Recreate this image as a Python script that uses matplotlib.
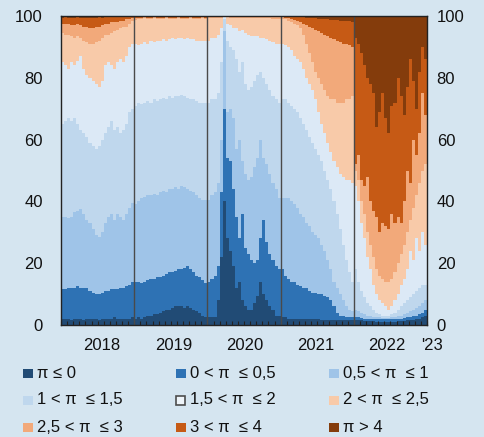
import numpy as np
import matplotlib
matplotlib.use("Agg")
import matplotlib.pyplot as plt
from matplotlib.patches import Rectangle
from matplotlib.ticker import MultipleLocator, NullLocator

plt.rcParams['font.family'] = ['Liberation Sans', 'DejaVu Sans']

# ---------------- data: cumulative share (%) of respondents with expected inflation pi <= threshold
# semi-monthly observations, Jan 2018 .. Dec 2022
le0 = [2,2,2,1.5,2,2,2,1.5,2,2,2,2,1.5,2,2,2,2,2.5,2,2,2,2,2,2.5,
       2,2.5,2,2.5,3,3,3.5,3.5,4,4.5,5,5,5.5,6,6,6,5.5,6,5.5,5,4.5,4,3,2.5,
       2.5,2.5,2.5,8,22,40,28,24,19,12,14,8,6,5,5,7,9.5,14,10,8,6,5,3,3,
       2.5,2.5,2,2,2,2,2,2,2,2,2,2,2,1.5,1.5,1.5,1.5,1.5,1.5,1.5,1.5,1.5,1.5,1.5,
       1.5,1.5,1.5,1.2,1.2,1.2,1.2,1,1,1,1,1,1,1,1.2,1.2,1.2,1.5,1.5,1.5,2,2,2.5,3]
le05 = [11.5,11.5,12,12,12,12.5,12,12,12,11,10.5,10,10,10.5,11,11,11.5,11.5,11.5,12,12,12.5,13,14,
        14,14,13.5,14,14.5,15,15,15.5,15.5,16,16.5,17,17,17.5,18,18,18.5,19,18,17,16,15.5,14.5,13.5,
        14,15,16,19,43,70,54,53,44,35,28,36,25,23,21,20,21,28,34,27,23,21,19,18,
        18,16,15,14,14,13,12.5,12,12,11,10.5,10.5,10,10,9.5,9,8,6,4,3,3,2.5,2.5,2.5,
        2.5,2.5,2.3,2,2,2,2,1.8,1.8,1.8,1.8,1.8,1.8,2,2,2,2.2,2.5,2.5,3,3,3.5,4,5]
le1 = [35,35,34.5,35,36.5,37,37.5,36,34,33,31,29,28.5,30,33,35,36,34,36,35,34,36,38,39.5,
       39,40,41,41.5,42,42,42.5,42,43,43.5,43,44,44,44.5,44,45,44.5,44,43.5,43,42,41,40.5,40.5,
       40.5,42,43,46,60,95,69,70,67,57,60,53,49,47,48,51,54,60,54,52,49,46,44,41,
       41,41,41,40,39,38,36,35,33,32,30,29,28,26,24,21,18,14,12,10,8,6,5,4.5,
       5,4.5,4,3.5,3,3,2.5,2.5,2.5,2.2,2.2,2.2,2.5,2.5,3,3,3.5,4,4.5,5,5.5,6,7,8]
le15 = [65,66,67,66,67,65,63,62,61,59,58,57,58,60,62,64,66,63,64,62,63,65,69,70,
        71,72,71.5,72,72.5,72,73,72.5,73,73.5,73,74,73.5,74,74,74.5,74,73.5,73,73,72.5,72,72,72,
        72,73,73,75,85,99,92,90,89,86,82,85,78,76,77,79,81,82,80,78,76,74,73,72,
        73,73,72,71,70,69,67,65,63,61,59,57,55,53,50,47,44,40,36,31,26,21,17,14,
        18,14,11,9,7,6,5,4,3.5,3,3,3,3.5,4,5,6,7,8,9,10,11,12,13,13]
le2 = [85,84,83,85,84,85.5,87,83,81,80,79,78,77,79,84,85,84,83,85,86,85,87,90,91,
       91,90.5,91,91.5,91,92,91.5,92,92,92.5,92,92.5,93,92.5,93,93,92.5,93,92.5,92.5,92,92,92,92,
       92,93,93,94,96,99.8,97.5,97,96,96,95,95.5,94.5,94,93.5,93.5,93.5,93,93,92.5,92,91.5,91,91,
       91,90.5,90,89,87,86,85,83,80,78,76,73,69,65,62,59,56,53,51,49,48,47,47,46,
       45,40,33,28,22,18,13,10,8,7,6,5,6,8,10,13,15,18,24,21,28,24,30,26]
le25 = [94.5,94,94,93.5,93,93.5,93,92,91.5,91,91,91.5,92,93,94,94,94.5,95,95.5,96,96.5,96.5,97.5,98.5,
        98.8,99,99,99.2,99,99,99.2,99,99,99,99.2,99,99,99,99.2,99,99,99,99.2,99,99,99,99.2,99,
        99.3,99.3,99.3,99.4,99.5,99.9,99.6,99.5,99.5,99.4,99.4,99.4,99.3,99.3,99.3,99.3,99.3,99.3,99.2,99.2,99.2,99.1,99.1,99,
        99,99,98.5,98,97.5,97,96,94,91,88,85,82,80,78,76,74,73,73,72,72,72,73,73,74,
        50,47,40,36,30,26,22,18,16,15,14,14,15,17,20,23,26,30,34,38,42,46,50,52]
le3 = [97.5,97.5,97.5,97,97,97.5,97,96.5,96.5,96,96,96.5,96.5,97,97.5,97.5,98,98,98,98.5,98.5,99,99,99.3,
       99.5,99.5,99.5,99.6,99.5,99.5,99.6,99.5,99.5,99.5,99.6,99.5,99.5,99.5,99.6,99.5,99.5,99.5,99.6,99.5,99.5,99.5,99.6,99.5,
       99.6,99.6,99.6,99.7,99.7,99.95,99.8,99.7,99.7,99.7,99.7,99.7,99.6,99.6,99.6,99.6,99.6,99.6,99.6,99.6,99.6,99.6,99.6,99.6,
       99.7,99.5,99.3,99,98.8,98.5,98,97.5,97,96.5,96,95.5,95,94.5,94,93.5,93,92.5,92,91.5,91,91,90.5,90,
       52,55,47,45,48,40,37,35,30,33,32,31,36,33,35,33,40,50,46,60,55,62,75,68]
le4 = [99.5,99.6,99.5,99.4,99.5,99.6,99.5,99.4,99.5,99.5,99.4,99.5,99.6,99.5,99.6,99.7,99.7,99.7,99.8,99.8,99.8,99.8,99.9,99.9,
       99.8,99.8,99.8,99.8,99.8,99.8,99.8,99.8,99.8,99.8,99.8,99.8,99.8,99.8,99.8,99.8,99.8,99.8,99.8,99.8,99.8,99.8,99.8,99.8,
       99.9,99.9,99.9,99.9,99.9,99.98,99.9,99.9,99.9,99.9,99.9,99.9,99.9,99.9,99.9,99.9,99.9,99.9,99.9,99.9,99.9,99.9,99.9,99.9,
       99.9,99.9,99.9,99.9,99.8,99.8,99.7,99.6,99.5,99.4,99.3,99.2,99.1,99,99,98.9,98.8,98.7,98.6,98.5,98.5,98.4,98.3,98.2,
       93,91,88,84,80,78,75,64,69,75,67,62,71,72,80,74,68,77,86,79,70,82,90,86]

labels = ["π ≤ 0", "0 < π  ≤ 0,5", "0,5 < π  ≤ 1",
          "1 < π  ≤ 1,5", "1,5 < π  ≤ 2", "2 < π  ≤ 2,5",
          "2,5 < π  ≤ 3", "3 < π  ≤ 4", "π > 4"]
colors = ['#214b75', '#2e72b4', '#9fc4e8', '#bfd7ed', '#dce9f6',
          '#f8caa9', '#f2a97a', '#c65a15', '#843c0c']
year_labels = ['2018', '2019', '2020', '2021', '2022', "'23"]
year_label_pos = [2018.56, 2019.54, 2020.51, 2021.48, 2022.45, 2023.07]

# ---------------- figure
W, H = 484, 437
bg = '#d5e5f0'
fig = plt.figure(figsize=(W / 100, H / 100), dpi=100, facecolor=bg)
ax = fig.add_axes([61 / W, 1 - 325 / H, 366 / W, 309 / H])

n = len(le0)
t = 2018 + np.arange(n + 1) / 24.0
def ext(a):
    a = list(a)
    return np.array(a + [a[-1]])

uppers = [le0, le05, le1, le15, le2, le25, le3, le4, [100] * n]
# draw from the top band downward, each filled from 0 to its cumulative upper bound
for up, col in reversed(list(zip(uppers, colors))):
    ax.fill_between(t, 0, ext(up), step='post', color=col, lw=0, antialiased=False)

for yr in [2019, 2020, 2021, 2022]:
    ax.axvline(yr, color='#4a4a4a', lw=1.0, zorder=5)

ax.set_xlim(2018, 2023)
ax.set_ylim(0, 100)
for s in ax.spines.values():
    s.set_color('#222222')
    s.set_linewidth(1.0)
    s.set_zorder(6)

ax.xaxis.set_major_locator(NullLocator())
ax.xaxis.set_minor_locator(MultipleLocator(1 / 12))
ax.tick_params(axis='x', which='minor', direction='in', length=3, width=0.8,
               color='#222222', bottom=True, top=False)
ax.set_yticks([0, 20, 40, 60, 80, 100])
ax.tick_params(axis='y', which='both', length=0, labelsize=12,
               labelleft=True, labelright=True, pad=0)
for lab in ax.get_yticklabels():
    lab.set_color('#111111')
ax.yaxis.set_tick_params(pad=13)
# right labels a bit closer
for tk in ax.yaxis.get_major_ticks():
    tk.label2.set_horizontalalignment('left')
from matplotlib.transforms import ScaledTranslation
for tk in ax.yaxis.get_major_ticks():
    tk.label2.set_transform(tk.label2.get_transform() + ScaledTranslation(-6 / 72, 0, fig.dpi_scale_trans))

for lab, pos in zip(year_labels, year_label_pos):
    ax.text(pos, -20 / 309, lab, transform=ax.get_xaxis_transform(),
            ha='center', va='center', fontsize=12, color='#111111', clip_on=False)

# ---------------- legend (manual, 3 columns)
col_x = [23, 176, 329]
row_y = [373, 400, 427]
for k, (lab, col) in enumerate(zip(labels, colors)):
    r, c = divmod(k, 3)
    x0 = col_x[c]
    yc = row_y[r]
    if k == 4:
        rect = Rectangle((x0 / W, 1 - (yc + 4.5) / H), 9 / W, 9 / H, transform=fig.transFigure,
                         facecolor='#eef4f9', edgecolor='#4d4d4d', lw=1.2)
    else:
        rect = Rectangle((x0 / W, 1 - (yc + 4.5) / H), 10 / W, 9 / H, transform=fig.transFigure,
                         facecolor=col, edgecolor='none')
    fig.add_artist(rect)
    fig.text((x0 + 14) / W, 1 - yc / H, lab, ha='left', va='center', fontsize=12, color='#111111')

fig.savefig('out.png', dpi=100, facecolor=bg)
